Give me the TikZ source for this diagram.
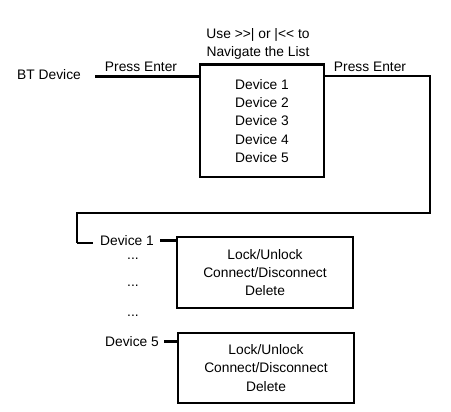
\documentclass[tikz,border=0pt]{standalone}
\usepackage{fontspec}
\setmainfont{Liberation Sans}
\begin{document}
\begin{tikzpicture}[x=1pt,y=-1pt,
  lbl/.style={inner sep=0pt,font=\fontsize{13.8}{18}\selectfont},
  boxn/.style={draw,line width=1.8pt,rectangle,inner sep=0pt,align=center,font=\fontsize{13.8}{18.3}\selectfont},
  thickline/.style={line width=3pt},
  thinline/.style={line width=1.6pt}]
\useasboundingbox (0,0) rectangle (451,412);
\node[lbl,anchor=west] (bt) at (17,75) {BT Device};
\node[lbl,align=center] (nav) at (258,44) {Use >{}>| or |<{}< to\\Navigate the List};
\node[boxn,minimum width=124pt,minimum height=112pt] (box1) at (262,121) {Device 1\\Device 2\\Device 3\\Device 4\\Device 5};
\draw[line width=3pt] (box1.north west) -- (box1.north east);
\coordinate (a) at (95,77);
\draw[thickline] (a) -- (box1.west |- a);
\node[lbl] (pe1) at (141,67) {Press Enter};
\coordinate (b) at (430,76);
\coordinate (c) at (430,213);
\coordinate (d) at (77,213);
\coordinate (e) at (77,243);
\coordinate (f) at (93,243);
\node[lbl] (pe2) at (370,67) {Press Enter};
\draw[thinline] (box1.east |- b) -- (b) -- (c) -- (d) -- (e);
\draw[line width=2pt] (e) -- (f);
\node[lbl,anchor=west] (d1) at (100,241) {Device 1};
\node[boxn,minimum width=176pt,minimum height=71pt] (box2) at (265,272.5) {Lock/Unlock\\Connect/Disconnect\\Delete};
\draw[thickline] ([xshift=6pt]d1.east |- box2.north) ++(0,4) coordinate (g) -- (box2.west |- g);
\node[lbl] (dots1) at (133,259) {...};
\node[lbl] (dots2) at (133,286) {...};
\node[lbl] (dots3) at (133,316) {...};
\node[lbl,anchor=west] (d5) at (105,342) {Device 5};
\node[boxn,minimum width=176pt,minimum height=70pt] (box3) at (266,368) {Lock/Unlock\\Connect/Disconnect\\Delete};
\draw[thickline] ([xshift=5pt]d5.east) -- (box3.west |- d5.east);
\end{tikzpicture}
\end{document}
